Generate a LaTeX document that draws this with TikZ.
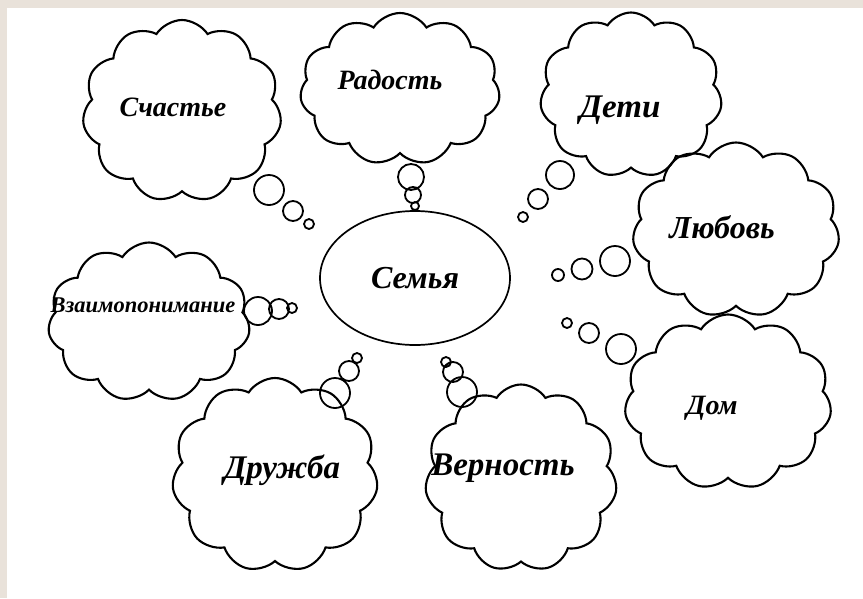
\documentclass[tikz,border=0pt]{standalone}
\usepackage{fontspec}
\setmainfont{Liberation Serif}
\usetikzlibrary{shapes.symbols,shapes.geometric}
\definecolor{frame}{HTML}{E9E2DA}

\begin{document}
\begin{tikzpicture}[x=1pt,y=-1pt,
  thought/.style={cloud,draw,line width=2.1pt,cloud puffs=11,cloud puff arc=115,cloud ignores aspect,inner sep=0pt},
  word/.style={font=\bfseries\itshape\fontsize{#1}{#1}\selectfont},
  word/.default=28,
  bubble/.style={line width=1.8pt}]
  \useasboundingbox (0,0) rectangle (863,598);
  \fill[frame] (0,0) rectangle (863,598);
  \fill[white] (7,8) rectangle (863,598);
  \node[ellipse,draw,line width=1.7pt,minimum width=190pt,minimum height=134pt,word=32] (semya) at (415,278) {Семья};
  \node[thought,minimum width=199pt,minimum height=182pt] (schastye) at (182,111) {};
  \node[word] (schastye-t) at (173,107) {Счастье};
  \node[thought,minimum width=200pt,minimum height=152pt] (radost) at (400,89) {};
  \node[word] (radost-t) at (390,80) {Радость};
  \node[thought,minimum width=182pt,minimum height=165pt] (deti) at (631,95) {};
  \node[word=33] (deti-t) at (620,110) {Дети};
  \node[thought,minimum width=207pt,minimum height=175pt] (lyubov) at (736,230) {};
  \node[word=32] (lyubov-t) at (722,227) {Любовь};
  \node[thought,minimum width=202pt,minimum height=159pt] (vzaimo) at (149,322) {};
  \node[word=22.5] (vzaimo-t) at (143,305) {Взаимопонимание};
  \node[thought,minimum width=207pt,minimum height=175pt] (dom) at (728,402) {};
  \node[word] (dom-t) at (712,408) {Дом};
  \node[thought,minimum width=206pt,minimum height=194pt] (druzhba) at (275,475) {};
  \node[word=33] (druzhba-t) at (282,470) {Дружба};
  \node[thought,minimum width=192pt,minimum height=187pt] (vernost) at (521,478) {};
  \node[word=33] (vernost-t) at (503,468) {Верность};
  \draw[bubble] (269,190) circle (15pt) (293,211) circle (10pt) (309,224) circle (5pt);
  \draw[bubble] (411,177) circle (13pt) (413,195) circle (8pt) (415,206) circle (4pt);
  \draw[bubble] (560,175) circle (14pt) (538,199) circle (10pt) (523,217) circle (5pt);
  \draw[bubble] (615,261) circle (15pt) (582,269) circle (10.5pt) (558,275) circle (6pt);
  \draw[bubble] (258,311) circle (14pt) (279,309) circle (10pt) (292,308) circle (5pt);
  \draw[bubble] (621,349) circle (15pt) (589,333) circle (10pt) (567,323) circle (5pt);
  \draw[bubble] (335,393) circle (15pt) (349,371) circle (10pt) (357,358) circle (5pt);
  \draw[bubble] (462,392) circle (15pt) (453,372) circle (10pt) (446,362) circle (5pt);
\end{tikzpicture}
\end{document}
